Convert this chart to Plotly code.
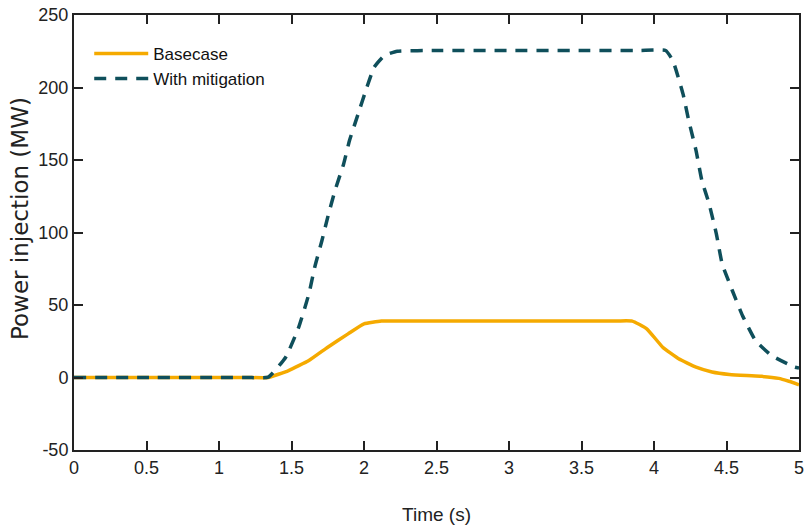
import plotly.graph_objects as go

# Time (s) and power injection (MW)
t_base = [0, 0.5, 1.0, 1.2, 1.34, 1.48, 1.62, 1.75, 1.89, 2.0, 2.12, 2.3, 2.5, 3.0, 3.5, 3.75, 3.85, 3.95, 4.06, 4.17, 4.29, 4.4, 4.52, 4.64, 4.74, 4.86, 4.93, 5.0]
y_base = [0, 0, 0, 0, 0, 4.8, 11.7, 20.9, 30.1, 37.0, 38.9, 39, 39, 39, 39, 39, 38.9, 33.6, 20.9, 12.9, 7.1, 3.8, 2.1, 1.3, 0.8, -0.6, -2.6, -5.0]

t_mit = [0, 0.5, 1.0, 1.2, 1.34, 1.46, 1.55, 1.62, 1.66, 1.71, 1.75, 1.80, 1.86, 1.90, 1.96, 2.02, 2.07, 2.14, 2.23, 2.5, 3.0, 3.5, 3.9, 4.08, 4.13, 4.20, 4.24, 4.29, 4.33, 4.38, 4.43, 4.47, 4.54, 4.61, 4.70, 4.81, 4.97, 5.0]
y_mit = [0, 0, 0, 0, 0.2, 14, 34.7, 57.7, 76, 94.5, 110.6, 129, 147.4, 163.4, 181.9, 200.2, 214, 222, 225, 225.5, 225.5, 225.5, 225.5, 225.5, 218.6, 195.6, 177, 156.5, 135.9, 119.8, 99.1, 78.4, 60, 42.8, 25.5, 15.2, 7.1, 6.5]

x_ticks = [0, 0.5, 1, 1.5, 2, 2.5, 3, 3.5, 4, 4.5, 5]
y_ticks = [-50, 0, 50, 100, 150, 200, 250]

font = "Liberation Sans, Arial, sans-serif"

fig = go.Figure()
fig.add_trace(go.Scatter(x=t_base, y=y_base, mode="lines", name="Basecase",
                         line=dict(color="#F5AA00", width=3.5, shape="spline", smoothing=0.4)))
fig.add_trace(go.Scatter(x=t_mit, y=y_mit, mode="lines", name="With mitigation",
                         line=dict(color="#0F4F5B", width=3.5, dash="12px,9px", shape="spline", smoothing=0.4)))

axis_common = dict(showgrid=False, zeroline=False, showline=True, linecolor="#222222", linewidth=2,
                   mirror="ticks", ticks="inside", ticklen=9, tickwidth=1.5, tickcolor="#222222",
                   tickfont=dict(family=font, size=18, color="#222222"))

fig.update_layout(
    width=808, height=531,
    margin=dict(l=74, r=4, t=15, b=81),
    paper_bgcolor="white", plot_bgcolor="white",
    xaxis=dict(range=[0, 5], tickvals=x_ticks, ticktext=[str(v) for v in x_ticks],
               title=dict(text="Time (s)", font=dict(family=font, size=19, color="#222222"), standoff=31),
               **axis_common),
    yaxis=dict(range=[-50, 250], tickvals=y_ticks, ticktext=[str(v) for v in y_ticks],
               **axis_common),
    legend=dict(x=0.021, y=0.952, xanchor="left", yanchor="top", bgcolor="rgba(0,0,0,0)",
                font=dict(family=font, size=17, color="#111111"), itemwidth=54, tracegroupgap=3),
    showlegend=True,
    annotations=[dict(text="Power injection (MW)", textangle=-90, xref="paper", yref="paper",
                      x=0, y=0.531, xanchor="center", yanchor="middle", xshift=-54, showarrow=False,
                      font=dict(family="DejaVu Sans, sans-serif", size=23, color="#222222"))],
)

fig.write_html("out.html")
